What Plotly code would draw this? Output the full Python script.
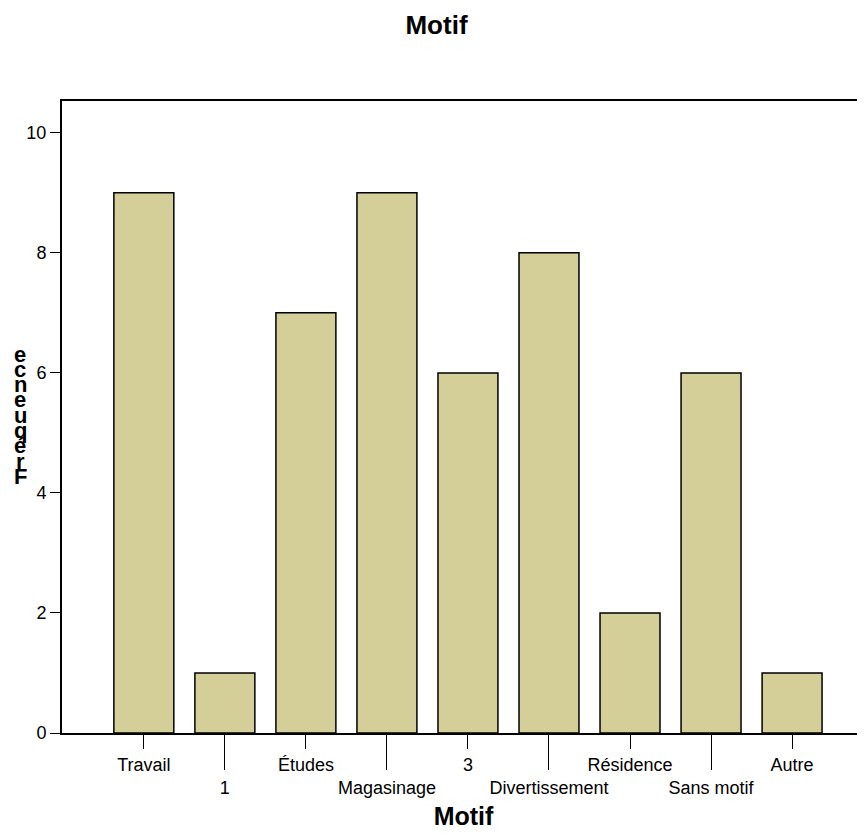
import plotly.graph_objects as go

categories = ["Travail", "1", "Études", "Magasinage", "3", "Divertissement",
              "Résidence", "Sans motif", "Autre"]
counts = [9, 1, 7, 9, 6, 8, 2, 6, 1]
y_ticks = [0, 2, 4, 6, 8, 10]
y_title = "Fréquence"

FONT = "Liberation Sans, Arial, sans-serif"
BAR_COLOR = "#d4cf98"

positions = list(range(len(categories)))
# alternate labels drop to a second row, like the original output
tick_text = [c if i % 2 == 0 else "<br>" + c for i, c in enumerate(categories)]

fig = go.Figure()
fig.add_trace(go.Bar(
    x=positions, y=counts,
    marker=dict(color=BAR_COLOR, line=dict(color="black", width=1.5)),
    showlegend=False,
))
# invisible trace on a second axis only to draw the longer ticks
fig.add_trace(go.Scatter(x=positions[1::2], y=[0] * len(positions[1::2]),
                         xaxis="x2", mode="markers", marker=dict(opacity=0),
                         showlegend=False, hoverinfo="skip"))

fig.update_layout(
    width=857, height=826,
    margin=dict(l=54, r=0, t=93, b=101),
    paper_bgcolor="white", plot_bgcolor="white",
    bargap=0.26,
    font=dict(family=FONT, size=18, color="black"),
    title=dict(text="<b>Motif</b>", x=0.5, xanchor="center", y=0.979, yanchor="middle",
               font=dict(size=26)),
    xaxis=dict(
        range=[-1.01, 8.9], tickmode="array", tickvals=positions, ticktext=tick_text,
        tickangle=0, tickfont=dict(size=18), automargin=False,
        ticks="outside", ticklen=14, tickwidth=1, tickcolor="black",
        showline=True, linecolor="black", linewidth=2, mirror=True,
        showgrid=False, zeroline=False,
        title=dict(text="<b>Motif</b>", font=dict(size=25), standoff=10),
    ),
    xaxis2=dict(
        range=[-1.01, 8.9], overlaying="x", side="bottom", anchor="y",
        tickmode="array", tickvals=positions[1::2], showticklabels=False,
        ticks="outside", ticklen=36, tickwidth=1, tickcolor="black",
        showline=False, showgrid=False, zeroline=False, automargin=False,
    ),
    yaxis=dict(
        range=[0, 10.53], tickmode="array", tickvals=y_ticks, automargin=False,
        ticks="outside", ticklen=10, tickwidth=1, tickcolor="black",
        showline=True, linecolor="black", linewidth=2,
        showgrid=False, zeroline=False,
    ),
)

# stacked, overlapping axis title letters as in the source image
letters = list(reversed(y_title))
for i, ch in enumerate(letters):
    fig.add_annotation(text="<b>%s</b>" % ch, xref="paper", yref="paper",
                       x=-0.052, y=(733 - 354 - i * 15.3) / 632,
                       xanchor="center", yanchor="middle", showarrow=False,
                       font=dict(size=22, color="black"))

fig.write_html("out.html")
